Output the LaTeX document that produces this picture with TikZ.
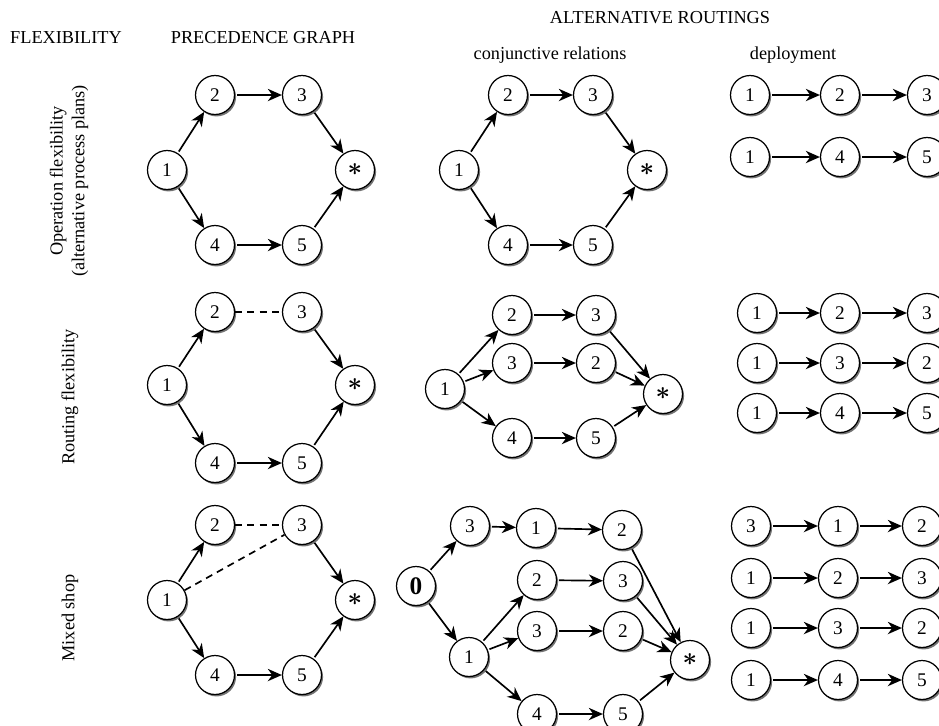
\documentclass[tikz,border=0pt]{standalone}
\usepackage{amsmath}
\usepackage{fontspec}
\setmainfont{Liberation Serif}
\usetikzlibrary{positioning, arrows.meta, shadows}

\newcommand{\sinkmark}{{\Large$\boldsymbol{\ast}$}}

\begin{document}
\begin{tikzpicture}[x=0.02cm, y=-0.02cm]
\tikzset{
    every node/.style={align=center, font=\fontsize{10.4}{12.5}\selectfont},
    opnode/.style={circle, draw, fill=white, line width=0.7pt, minimum size=0.78cm, inner sep=0pt,
        font=\fontsize{11}{13}\selectfont,
        drop shadow={shadow xshift=0.9pt, shadow yshift=-1.1pt, fill=black!55, opacity=1}},
    flow/.style={-{Stealth[length=8pt, width=7pt, inset=2.5pt]}, line width=0.95pt, shorten <=1pt},
    link/.style={dash pattern=on 4pt off 3pt, line width=0.95pt},
    rowlabel/.style={rotate=90}
}
\useasboundingbox (0,0) rectangle (939,725);

\node (flex) at (66,38) {FLEXIBILITY};
\node (prec) at (263,38) {PRECEDENCE GRAPH};
\node (alt) at (660,18) {ALTERNATIVE ROUTINGS};
\node (conj) at (550,55) {conjunctive relations};
\node (depl) at (793,55) {deployment};

\node[rowlabel] (opflex) at (69,181) {Operation flexibility\\(alternative process plans)};
\node[rowlabel] (routflex) at (70,397) {Routing flexibility};
\node[rowlabel] (mixed) at (70,618) {Mixed shop};

% operation flexibility
\node[opnode] (op1) at (167,170) {1};
\node[opnode] (op2) at (215,95) {2};
\node[opnode] (op3) at (302,95) {3};
\node[opnode] (op4) at (215,245) {4};
\node[opnode] (op5) at (302,245) {5};
\node[opnode] (opE) at (355,170) {\sinkmark};
\draw[flow] (op1) -- (op2);
\draw[flow] (op2) -- (op3);
\draw[flow] (op3) -- (opE);
\draw[flow] (op1) -- (op4);
\draw[flow] (op4) -- (op5);
\draw[flow] (op5) -- (opE);

\node[opnode] (oc1) at (459,170) {1};
\node[opnode] (oc2) at (508,95) {2};
\node[opnode] (oc3) at (593,95) {3};
\node[opnode] (oc4) at (508,245) {4};
\node[opnode] (oc5) at (593,245) {5};
\node[opnode] (ocE) at (647,170) {\sinkmark};
\draw[flow] (oc1) -- (oc2);
\draw[flow] (oc2) -- (oc3);
\draw[flow] (oc3) -- (ocE);
\draw[flow] (oc1) -- (oc4);
\draw[flow] (oc4) -- (oc5);
\draw[flow] (oc5) -- (ocE);

\foreach \k/\y/\a/\b/\c in {1/95/1/2/3, 2/157/1/4/5} {
    \node[opnode] (od\k-a) at (750,\y) {\a};
    \node[opnode] (od\k-b) at (840,\y) {\b};
    \node[opnode] (od\k-c) at (927,\y) {\c};
    \draw[flow] (od\k-a) -- (od\k-b);
    \draw[flow] (od\k-b) -- (od\k-c);
}

% routing flexibility
\node[opnode] (rp1) at (167,385) {1};
\node[opnode] (rp2) at (215,312) {2};
\node[opnode] (rp3) at (302,312) {3};
\node[opnode] (rp4) at (215,463) {4};
\node[opnode] (rp5) at (302,463) {5};
\node[opnode] (rpE) at (355,385) {\sinkmark};
\draw[flow] (rp1) -- (rp2);
\draw[link] (rp2) -- (rp3);
\draw[flow] (rp3) -- (rpE);
\draw[flow] (rp1) -- (rp4);
\draw[flow] (rp4) -- (rp5);
\draw[flow] (rp5) -- (rpE);

\node[opnode] (rc1) at (445,389) {1};
\node[opnode] (rc2) at (512,315) {2};
\node[opnode] (rc3) at (596,315) {3};
\node[opnode] (rc3b) at (512,363) {3};
\node[opnode] (rc2b) at (596,363) {2};
\node[opnode] (rc4) at (512,438) {4};
\node[opnode] (rc5) at (596,438) {5};
\node[opnode] (rcE) at (663,394) {\sinkmark};
\draw[flow] (rc1) -- (rc2);
\draw[flow] (rc2) -- (rc3);
\draw[flow] (rc3) -- (rcE);
\draw[flow] (rc1) -- (rc3b);
\draw[flow] (rc3b) -- (rc2b);
\draw[flow] (rc2b) -- (rcE);
\draw[flow] (rc1) -- (rc4);
\draw[flow] (rc4) -- (rc5);
\draw[flow] (rc5) -- (rcE);

\foreach \k/\y/\a/\b/\c in {1/313/1/2/3, 2/363/1/3/2, 3/413/1/4/5} {
    \node[opnode] (rd\k-a) at (757,\y) {\a};
    \node[opnode] (rd\k-b) at (840,\y) {\b};
    \node[opnode] (rd\k-c) at (927,\y) {\c};
    \draw[flow] (rd\k-a) -- (rd\k-b);
    \draw[flow] (rd\k-b) -- (rd\k-c);
}

% mixed shop
\node[opnode] (mp1) at (167,600) {1};
\node[opnode] (mp2) at (215,525) {2};
\node[opnode] (mp3) at (302,525) {3};
\node[opnode] (mp4) at (215,675) {4};
\node[opnode] (mp5) at (302,675) {5};
\node[opnode] (mpE) at (355,600) {\sinkmark};
\draw[flow] (mp1) -- (mp2);
\draw[link] (mp2) -- (mp3);
\draw[link] (mp1) -- (mp3);
\draw[flow] (mp3) -- (mpE);
\draw[flow] (mp1) -- (mp4);
\draw[flow] (mp4) -- (mp5);
\draw[flow] (mp5) -- (mpE);

\node[opnode] (mc0) at (416,586) {\textbf{\Large 0}};
\node[opnode] (mc3) at (470,526) {3};
\node[opnode] (mc1) at (536,528) {1};
\node[opnode] (mc2) at (622,530) {2};
\node[opnode] (mc1b) at (469,657) {1};
\node[opnode] (mc2b) at (537,580) {2};
\node[opnode] (mc3b) at (623,581) {3};
\node[opnode] (mc3c) at (537,631) {3};
\node[opnode] (mc2c) at (623,631) {2};
\node[opnode] (mc4) at (537,714) {4};
\node[opnode] (mc5) at (623,714) {5};
\node[opnode] (mcE) at (690,660) {\sinkmark};
\draw[flow] (mc0) -- (mc3);
\draw[flow] (mc3) -- (mc1);
\draw[flow] (mc1) -- (mc2);
\draw[flow] (mc2) -- (mcE);
\draw[flow] (mc0) -- (mc1b);
\draw[flow] (mc1b) -- (mc2b);
\draw[flow] (mc2b) -- (mc3b);
\draw[flow] (mc3b) -- (mcE);
\draw[flow] (mc1b) -- (mc3c);
\draw[flow] (mc3c) -- (mc2c);
\draw[flow] (mc2c) -- (mcE);
\draw[flow] (mc1b) -- (mc4);
\draw[flow] (mc4) -- (mc5);
\draw[flow] (mc5) -- (mcE);

\foreach \k/\y/\a/\b/\c in {1/526/3/1/2, 2/578/1/2/3, 3/628/1/3/2, 4/680/1/4/5} {
    \node[opnode] (md\k-a) at (751,\y) {\a};
    \node[opnode] (md\k-b) at (838,\y) {\b};
    \node[opnode] (md\k-c) at (922,\y) {\c};
    \draw[flow] (md\k-a) -- (md\k-b);
    \draw[flow] (md\k-b) -- (md\k-c);
}
\end{tikzpicture}
\end{document}
